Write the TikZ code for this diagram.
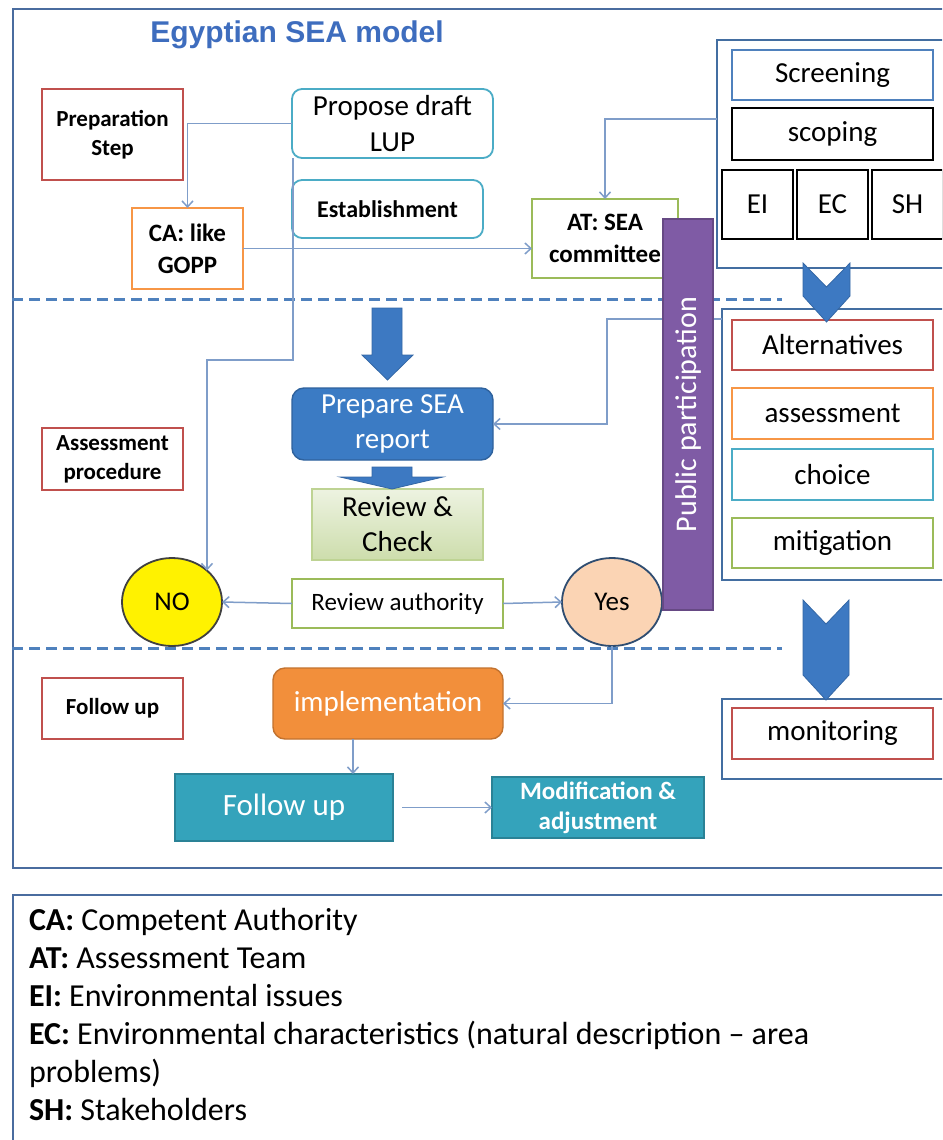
\documentclass[tikz,border=0pt]{standalone}
\usepackage{fontspec}
\setmainfont{Carlito}
\newfontfamily\titlefont{Liberation Sans}
\usepackage{tikz}
\usetikzlibrary{arrows.meta,positioning,shapes.geometric}
\definecolor{SeaFrame}{HTML}{4A6C9F}
\definecolor{SeaBlue}{HTML}{4F81BD}
\definecolor{SeaTitle}{HTML}{3E6DBE}
\definecolor{SeaRed}{HTML}{C0504D}
\definecolor{SeaOrange}{HTML}{F79646}
\definecolor{SeaTeal}{HTML}{4BACC6}
\definecolor{SeaGreen}{HTML}{9BBB59}
\definecolor{SeaPurple}{HTML}{7F5BA5}
\definecolor{SeaLink}{HTML}{7F9DC9}
\definecolor{SeaArrow}{HTML}{3D79C2}
\definecolor{SeaReport}{HTML}{3B7BC4}
\definecolor{SeaImpl}{HTML}{F28F3B}
\definecolor{SeaFollow}{HTML}{34A3BB}
\definecolor{SeaYes}{HTML}{FBD4B4}
\newcommand{\seafont}[2]{\fontsize{#1}{#2}\selectfont}

\begin{document}
\begin{tikzpicture}[
  x=1pt, y=-1pt,
  every node/.style={inner sep=0pt, outer sep=0pt, align=center},
  frame/.style={draw=SeaFrame, line width=2.4pt},
  divider/.style={draw=SeaBlue, line width=3pt, dash pattern=on 11pt off 6pt},
  labelbox/.style={draw=SeaRed, line width=1.6pt, fill=white, minimum width=141pt, font=\seafont{23}{29}\bfseries},
  roundbox/.style={draw=SeaTeal, line width=1.8pt, fill=white, rounded corners=10pt},
  stepbox/.style={draw=#1, line width=1.6pt, fill=white, minimum width=201pt, minimum height=50pt, font=\seafont{29}{35}},
  groupbox/.style={draw=SeaBlue!85!black, line width=2pt},
  issuebox/.style={draw=black, line width=2.2pt, fill=white, minimum width=71pt, minimum height=69pt, font=\seafont{29}{35}},
  solidbox/.style={fill=#1, draw=#1!80!black, line width=1.4pt, text=white},
  decision/.style={ellipse, line width=1.8pt, minimum width=100pt, minimum height=88pt, font=\seafont{27}{30}},
  flowarrow/.style={-{Straight Barb[length=6pt,width=11pt]}, line width=1.5pt, draw=SeaLink},
  blockarrow/.style={fill=SeaArrow, draw=SeaArrow!85!black, line width=0.8pt}
]
\clip (0,0) rectangle (942,1140);
\fill[white] (0,0) rectangle (942,1140);

\draw[frame] (13,9) rectangle (960,868);
\draw[frame] (13,895) rectangle (960,1160);
\draw[divider] (12,299) -- (782,299);
\draw[divider] (12,648) -- (782,648);

\node[font=\titlefont\seafont{30}{34}\bfseries, text=SeaTitle] (title) at (297,35) {Egyptian SEA model};

\node[labelbox, minimum height=91pt] (prep) at (112.5,134.5) {Preparation\\Step};
\node[labelbox, minimum height=62pt] (assesslbl) at (112.5,459) {Assessment\\procedure};
\node[labelbox, minimum height=61pt] (followlbl) at (112.5,708.5) {Follow up};

\node[roundbox, minimum width=201pt, minimum height=69pt, font=\seafont{29}{36}] (draft) at (392.5,123.5) {Propose draft\\LUP};
\node[roundbox, minimum width=191pt, minimum height=58pt, font=\seafont{24}{28}\bfseries, below=22pt of draft.south west, anchor=north west] (estab) {Establishment};
\node[draw=SeaOrange, line width=1.8pt, fill=white, minimum width=111pt, minimum height=81pt, font=\seafont{25}{32}\bfseries] (ca) at (187.5,248.5) {CA: like\\GOPP};
\node[draw=SeaGreen, line width=1.8pt, fill=white, minimum width=146pt, minimum height=79pt, font=\seafont{25}{32}\bfseries] (at) at (605,238.5) {AT: SEA\\committee};

\node[groupbox, minimum width=233pt, minimum height=228pt] (grpscr) at (833.5,154) {};
\node[stepbox=SeaBlue] (screen) at (832.5,75) {Screening};
\node[stepbox=black, line width=2.4pt, minimum height=52pt, below=8pt of screen] (scoping) {scoping};
\node[issuebox] (ei) at (757.5,204.5) {EI};
\node[issuebox, right=4pt of ei] (ec) {EC};
\node[issuebox, right=4pt of ec] (sh) {SH};

\node[groupbox, minimum width=228pt, minimum height=271pt] (grpalt) at (836,444.5) {};
\node[stepbox=SeaRed] (alt) at (832.5,345) {Alternatives};
\node[stepbox=SeaOrange, minimum height=51pt, below=18pt of alt] (assess) {assessment};
\node[stepbox=SeaTeal, minimum height=51pt, below=10pt of assess] (choice) {choice};
\node[stepbox=SeaGreen, below=18pt of choice] (mitig) {mitigation};

\node[groupbox, minimum width=228pt, minimum height=80pt] (grpmon) at (836,739) {};
\node[stepbox=SeaRed, minimum height=51pt] (monitor) at (832.5,733.5) {monitoring};

\node[solidbox=SeaReport, rounded corners=12pt, minimum width=201pt, minimum height=72pt, font=\seafont{29}{35}] (report) at (392.5,424) {Prepare SEA\\report};
\node[draw=SeaGreen!65, line width=1.4pt, top color=SeaGreen!18, bottom color=SeaGreen!50, minimum width=171pt, minimum height=71pt, font=\seafont{29}{35}] (check) at (397.5,524.5) {Review \&\\Check};
\node[draw=SeaGreen, line width=1.8pt, fill=white, minimum width=211pt, minimum height=49pt, font=\seafont{25}{30}] (authority) at (397.5,603.5) {Review authority};
\node[decision, draw=black!75, fill=yellow] (no) at (172,602) {NO};
\node[decision, draw=SeaBlue!60!black, fill=SeaYes] (yes) at (612,602) {Yes};

\node[solidbox=SeaImpl, rounded corners=12pt, minimum width=230pt, minimum height=71pt, font=\seafont{29}{35}] (impl) at (388,703.5) {implementation};
\node[solidbox=SeaFollow, minimum width=218pt, minimum height=67pt, font=\seafont{31}{35}] (follow) at (284,807.5) {Follow up};
\node[solidbox=SeaFollow, minimum width=212pt, minimum height=61pt, font=\seafont{25}{30}\bfseries, right=99pt of follow] (modif) {Modification \&\\adjustment};

\draw[blockarrow] (372,308) -- (402,308) -- (402,355) -- (413,355) -- (387.5,380) -- (362,355) -- (372,355) -- cycle;
\draw[blockarrow] (372,467) -- (412,467) -- (412,477) -- (443,477) -- (392,489) -- (340,477) -- (372,477) -- cycle;
\draw[blockarrow] (803,263) -- (826.5,287) -- (850,263) -- (850,296) -- (826.5,322) -- (803,296) -- cycle;
\draw[blockarrow] (803,600) -- (826,624) -- (849,600) -- (849,675) -- (826,700) -- (803,675) -- cycle;

\draw[flowarrow] (draft.west) -| (ca.north);
\draw[flowarrow] (ca.east) -- (ca.east -| at.west);
\draw[flowarrow] ([yshift=35pt]grpscr.west) -| (at.north);
\draw[flowarrow] ([yshift=125.5pt]grpalt.west) -- ++(-115,0) |- (report.east);
\draw[flowarrow] ([xshift=1pt]draft.south west) -- ++(0,202) -| (no.42);
\draw[flowarrow] (authority.west) -- (no.east);
\draw[flowarrow] (authority.east) -- (yes.west);
\draw[flowarrow] (yes.south) |- (impl.east);
\draw[flowarrow] ([xshift=-35pt]impl.south) -- ([xshift=-35pt]impl.south |- follow.north);
\draw[flowarrow, shorten <=9pt] (follow.east) -- (modif.west);

\node[fill=SeaPurple, draw=SeaPurple!80!black, line width=1.2pt, rotate=90, minimum width=391pt, minimum height=50pt, text=white, font=\seafont{30}{34}] (public) at (688,414.5) {Public participation};

\node[anchor=north west, align=left, font=\seafont{32}{38}] (legend) at (29,908) {\textbf{CA:} Competent Authority\\
\textbf{AT:} Assessment Team\\
\textbf{EI:} Environmental issues\\
\textbf{EC:} Environmental characteristics (natural description -- area\\
problems)\\
\textbf{SH:} Stakeholders};
\end{tikzpicture}
\end{document}
